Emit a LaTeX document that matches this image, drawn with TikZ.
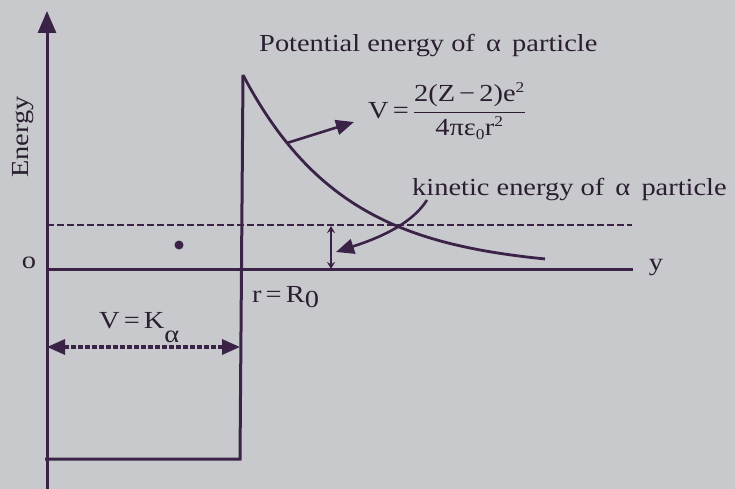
\documentclass[tikz,border=0pt]{standalone}
\usepackage{fontspec}
\setmainfont{Liberation Serif}[FakeStretch=1.16]
\usetikzlibrary{arrows.meta}
\definecolor{ink}{HTML}{3A2346}
\definecolor{txt}{HTML}{2A1E30}
\definecolor{paper}{HTML}{C8C9CD}
\tikzset{
  axis/.style={draw=ink, line width=3pt},
  curve/.style={draw=ink, line width=2.8pt},
  dashline/.style={draw=ink, line width=2.3pt, dash pattern=on 7pt off 3pt},
  bigtip/.style={-{Triangle[length=22pt,width=18pt]}},
  ptr/.style={draw=ink, line width=2.6pt, -{Triangle[length=18pt,width=15pt]}},
  lbl/.style={text=txt, font=\fontsize{24.5}{26}\selectfont, inner sep=0pt},
}
\begin{document}
\begin{tikzpicture}[x=1pt,y=1pt]
\fill[paper] (0,0) rectangle (735,-489);
\useasboundingbox (0,0) rectangle (735,-489);
% coordinates
\coordinate (ybot) at (47,-489);
\coordinate (ytop) at (47,-11);
\coordinate (o) at (47,-269);
\coordinate (xend) at (633,-269);
\coordinate (btop) at (243,-75);
\coordinate (bbot) at (240,-459);
\coordinate (lbot) at (45,-459);
\coordinate (dl) at (47,-225);
\coordinate (dr) at (632,-225);
% axes
\draw[axis, bigtip] (ybot) -- (ytop);
\draw[axis] (o) -- (xend);
% well
\draw[axis] (btop) -- (bbot) -- (lbot);
% dashed energy level
\draw[dashline] (dl) -- (dr);
% potential curve
\draw[curve] plot[domain=0:302, samples=80] ({243+\x},{-269+194*exp(-0.0098*\x)});
% dot
\node[circle, fill=ink, inner sep=0pt, minimum size=9pt] (dot) at (179,-245) {};
% labels
\node[lbl, rotate=90] (energy) at (23,-137) {Energy};
\node[lbl] (olbl) at (29,-263) {o};
\node[lbl] (ylbl) at (656,-268) {y};
\node[lbl, anchor=west] (pe) at (259,-46) {Potential energy of \,α\, particle};
\node[lbl, anchor=west] (formula) at (368,-111) {V\,=\,$\displaystyle\frac{\mbox{2(Z\,−\,2)e\textsuperscript{\fontsize{15}{15}\selectfont 2}}}{\mbox{4πε\textsubscript{\fontsize{15}{15}\selectfont 0}r\textsuperscript{\fontsize{15}{15}\selectfont 2}}}$};
\node[lbl, anchor=west] (ke) at (412,-190) {kinetic energy of \,α\, particle};
\node[lbl, anchor=west] (rr) at (252,-297) {r\,=\,R\raisebox{-5pt}{0}};
\node[lbl, anchor=west] (vk) at (99,-328) {V\,=\,K\raisebox{-14pt}{α}};
% formula pointer
\coordinate (fa) at (287,-143);
\coordinate (fb) at (354,-122);
\draw[ptr] (fa) -- (fb);
% kinetic pointer
\coordinate (ka) at (427,-200);
\coordinate (kb) at (336,-252);
\draw[ptr] (ka) .. controls (413,-222) and (385,-236) .. (kb);
% small double arrow
\coordinate (da) at (331,-226);
\coordinate (db) at (331,-269);
\draw[draw=ink, line width=2.4pt, {Stealth[length=7pt,width=8pt]}-{Stealth[length=7pt,width=8pt]}] (da) -- (db);
% dotted double arrow
\coordinate (va) at (47,-347);
\coordinate (vb) at (240,-347);
\draw[draw=ink, line width=3.2pt, dash pattern=on 5pt off 2pt, {Triangle[length=18pt,width=15pt]}-{Triangle[length=18pt,width=15pt]}] (va) -- (vb);
\end{tikzpicture}
\end{document}
